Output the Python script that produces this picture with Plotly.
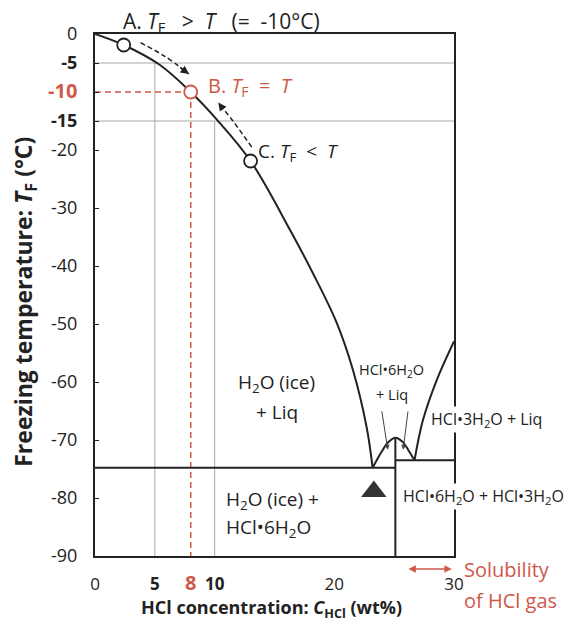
import plotly.graph_objects as go

# ---- data ----
ice_x = [0, 2.4, 5.4, 8.0, 10.2, 13.0, 16.3, 18.2, 20.2, 21.55, 22.7, 23.2]
ice_y = [0, -1.9, -5.3, -10.0, -14.8, -21.9, -33.8, -41.2, -49.8, -57.9, -67.8, -74.8]
hexa_x = [23.2, 23.9, 24.5, 25.1, 25.7, 26.2, 26.7]
hexa_y = [-74.8, -72.2, -70.4, -69.6, -70.3, -71.8, -73.5]
tri_x = [26.7, 27.4, 28.55, 30.0]
tri_y = [-73.5, -66.6, -59.7, -53.0]
eutectic_T = -74.8
peritectic_T = -73.5
hexa_comp = 25.1
hexa_top = -69.6
state_x = [2.4, 8.0, 13.0]
state_y = [-1.9, -10.0, -21.9]
target_T = -10
target_C = 8
xtick_vals = [0, 5, 8, 10, 20, 30]
xtick_text = ["0", "<b>5</b>", '<span style="color:#d0584a;font-size:20px"><b>8</b></span>', "<b>10</b>", "20", "30"]
ytick_vals = [0, -5, -10, -15, -20, -30, -40, -50, -60, -70, -80, -90]
ytick_text = ["0", "<b>-5</b>", '<span style="color:#d0584a;font-size:20px"><b>-10</b></span>', "<b>-15</b>",
              "-20", "-30", "-40", "-50", "-60", "-70", "-80", "-90"]

RED = "#d0584a"
BLK = "#222222"
GRID = "#a8a8a8"
FONT = "Open Sans"
NB = "\u00a0"

fig = go.Figure()

def line(x, y, color=BLK, width=2, dash=None, shape="linear"):
    fig.add_trace(go.Scatter(x=x, y=y, mode="lines", hoverinfo="skip",
                             line=dict(color=color, width=width, dash=dash, shape=shape),
                             showlegend=False))

# grid lines
line([0, 30], [-5, -5], GRID, 1)
line([0, 30], [-15, -15], GRID, 1)
line([5, 5], [-5, -90], GRID, 1)
line([10, 10], [-15, -90], GRID, 1)

# red dashed guide
line([0, target_C], [target_T, target_T], RED, 1.5, "6px,4px")
line([target_C, target_C], [target_T, -90], RED, 1.5, "6px,4px")

# phase boundaries
line(ice_x, ice_y, BLK, 2, shape="spline")
line(hexa_x, hexa_y, BLK, 2, shape="spline")
line(tri_x, tri_y, BLK, 2, shape="spline")
line([0, hexa_comp], [eutectic_T, eutectic_T], BLK, 2)
line([hexa_comp, hexa_comp], [hexa_top, -90], BLK, 2)
line([hexa_comp, 30], [peritectic_T, peritectic_T], BLK, 2)

# dashed arrows along the curve
line([3.8, 5.8, 7.85], [-1.5, -3.8, -6.9], BLK, 1.5, "5px,3px", "spline")
line([13.1, 11.6, 10.3], [-19.5, -15.2, -11.8], BLK, 1.5, "5px,3px", "spline")

# state circles
fig.add_trace(go.Scatter(x=state_x, y=state_y, mode="markers", hoverinfo="skip", showlegend=False,
                         marker=dict(size=13, color="white",
                                     line=dict(color=[BLK, RED, BLK], width=1.8))))

# eutectic triangle
fig.add_trace(go.Scatter(x=[23.3], y=[-78.9], mode="markers", hoverinfo="skip", showlegend=False,
                         marker=dict(symbol="triangle-up", size=22, color="#333333")))

ann = []
def text(x, y, t, size=16, color=BLK, xanchor="center", xref="x", yref="y", bg=None, **kw):
    d = dict(x=x, y=y, text=t, showarrow=False, xref=xref, yref=yref, xanchor=xanchor,
             yanchor="middle", font=dict(family=FONT, size=size, color=color))
    if bg:
        d["bgcolor"] = bg
    d.update(kw)
    ann.append(d)

def arrow(x, y, ax, ay, color=BLK, width=1.5, size=1.1, **kw):
    d = dict(x=x, y=y, ax=ax, ay=ay, xref="x", yref="y", axref="x", ayref="y",
             showarrow=True, arrowhead=2, arrowsize=size, arrowwidth=width,
             arrowcolor=color, text="")
    d.update(kw)
    ann.append(d)

# arrowheads for dashed arrows
arrow(7.85, -6.9, 7.0, -5.6)
arrow(10.3, -11.8, 10.8, -13.2)
# pointer arrows into the hexahydrate dome
arrow(24.47, -71.7, 23.95, -64.8, "#444", 1, 1)
arrow(25.75, -71.7, 26.17, -64.8, "#444", 1, 1)

text(2.2, 1.023,
     f"A.{NB}<i>T</i><sub>F</sub>{NB}{NB}{NB}>{NB}{NB}<i>T</i>{NB}{NB}{NB}(={NB}{NB}-10°C)", 21,
     xanchor="left", yref="paper")
text(9.3, -9.1, f"B. <i>T</i><sub>F</sub>{NB} ={NB} <i>T</i>", 20, RED, xanchor="left")
text(13.45, -20.3, f"C. <i>T</i><sub>F</sub>{NB} &lt;{NB} <i>T</i>", 19, xanchor="left")

text(15.2, -60.2, "H<sub>2</sub>O (ice)", 19)
text(15.2, -65.2, "+ Liq", 19)
text(10.8, -80.3, "H<sub>2</sub>O (ice) +", 19, xanchor="left")
text(10.8, -85.2, "HCl•6H<sub>2</sub>O", 19, xanchor="left")
text(24.8, -58.1, "HCl•6H<sub>2</sub>O", 14.5)
text(24.8, -62.2, "+ Liq", 14.5)
text(27.95, -66.4, "HCl•3H<sub>2</sub>O + Liq", 16, xanchor="left", bg="white")
text(25.55, -79.8, "HCl•6H<sub>2</sub>O + HCl•3H<sub>2</sub>O", 16, xanchor="left", bg="white")

# solubility note
text(1.022, -0.025, "Solubility", 20, RED, xanchor="left", xref="paper", yref="paper")
text(1.022, -0.085, "of HCl gas", 20, RED, xanchor="left", xref="paper", yref="paper")
ann.append(dict(x=0.994, y=-0.025, ax=-45, ay=0, xref="paper", yref="paper",
                axref="pixel", ayref="pixel", showarrow=True, arrowhead=2, startarrowhead=2,
                arrowside="end+start", arrowsize=1, startarrowsize=1, arrowwidth=1.5,
                arrowcolor=RED, text=""))

# axis titles
text(0.493, -0.1, "<b>HCl concentration: <i>C</i><sub>HCl</sub> (wt%)</b>", 18,
     xref="paper", yref="paper")
text(-0.195, 0.487, "<b>Freezing temperature: <i>T</i><sub>F</sub> (°C)</b>", 23,
     xref="paper", yref="paper", textangle=-90)

# page body has an 8px margin: figure is sized so the plot lands where the reference has it
fig.update_layout(
    width=566, height=620,
    margin=dict(l=87, r=120, t=26, b=72),
    plot_bgcolor="white", paper_bgcolor="white",
    font=dict(family=FONT, size=18, color=BLK),
    annotations=ann,
    xaxis=dict(range=[0, 30], showgrid=False, zeroline=False, showline=True, mirror=True,
               linecolor=BLK, linewidth=2, tickmode="array", tickvals=xtick_vals,
               ticktext=xtick_text, ticks="", ticklabelstandoff=12,
               tickfont=dict(family=FONT, size=17, color=BLK)),
    yaxis=dict(range=[-90, 0], showgrid=False, zeroline=False, showline=True, mirror=True,
               linecolor=BLK, linewidth=2, tickmode="array", tickvals=ytick_vals,
               ticktext=ytick_text, ticks="inside", ticklen=4, tickcolor=BLK,
               ticklabelstandoff=12, tickfont=dict(family=FONT, size=18, color=BLK)),
)

fig.write_html("out.html")
